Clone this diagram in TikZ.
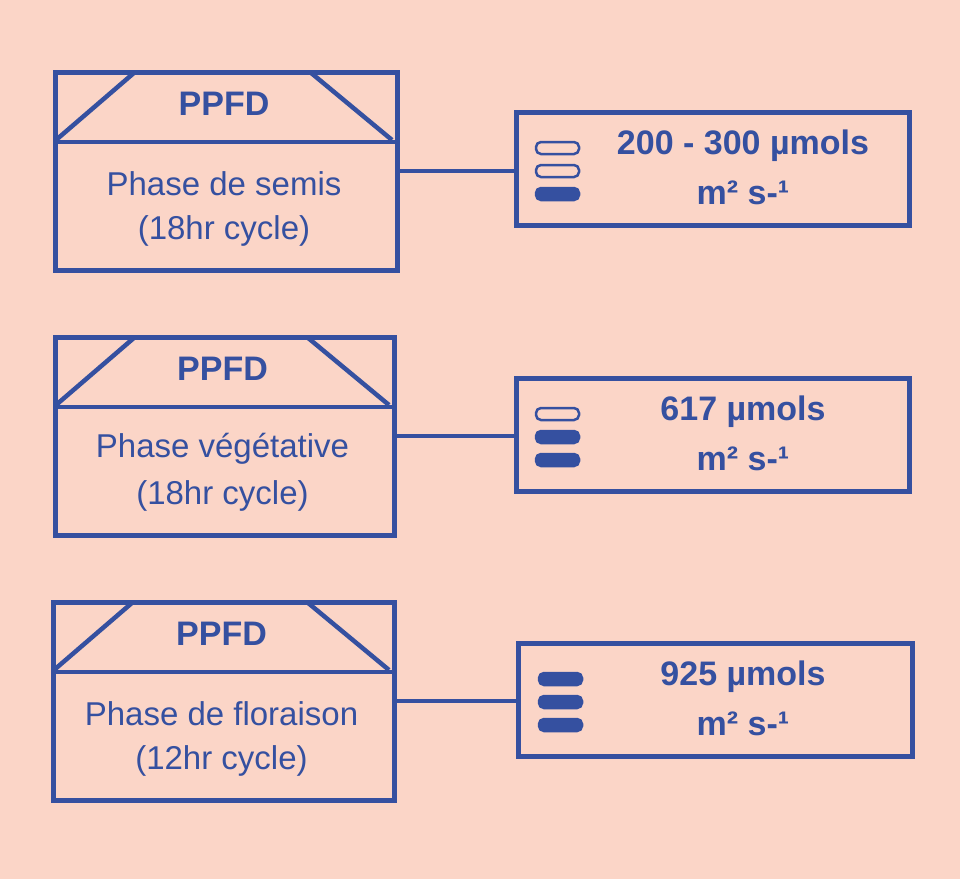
\documentclass[tikz,border=0pt]{standalone}
\usepackage{fontspec}
\setmainfont{Liberation Sans}
\definecolor{bg}{HTML}{FBD5C7}
\definecolor{bl}{HTML}{3550A0}
\begin{document}
\begin{tikzpicture}[x=1pt,y=-1pt,
  ln/.style={draw=bl,line width=4.5pt},
  pill/.style={draw=bl,line width=2.5pt,rounded corners=5pt},
  fpill/.style={pill,fill=bl},
  tb/.style={text=bl,font=\fontsize{34}{40}\selectfont\bfseries},
  tn/.style={text=bl,font=\fontsize{33}{40}\selectfont}]
\fill[bg] (0,0) rectangle (960,879);
\useasboundingbox (0,0) rectangle (960,879);
% left boxes
\foreach \i/\xa/\xb/\ya/\t/\c in {1/53/395/70/Phase de semis/18hr cycle,2/53/392/335/Phase végétative/18hr cycle,3/51/392/600/Phase de floraison/12hr cycle}{
  \node[ln,minimum width={\xb-\xa},minimum height=198,anchor=north west,inner sep=0] (L\i) at (\xa,\ya) {};
  \draw[ln] (\xa,\ya+72) -- (\xb,\ya+72);
  \draw[ln] (\xa+3,\ya+70) -- (\xa+82,\ya+2);
  \draw[ln] (\xb-3,\ya+70) -- (\xb-85,\ya+2);
  \node[tb] at ({(\xa+\xb)/2},\ya+34) {PPFD};
  \node[tn] at ({(\xa+\xb)/2},\ya+114) {\t};
  \node[tn] at ({(\xa+\xb)/2},\ya+161) {(\c)};
}
% right boxes
\foreach \i/\xa/\xb/\ya/\t in {1/514/907/110/200 - 300 µmols,2/514/907/376/617 µmols,3/516/910/641/925 µmols}{
  \node[ln,minimum width={\xb-\xa},minimum height=113,anchor=north west,inner sep=0] (R\i) at (\xa,\ya) {};
  \node[tb] at (743,\ya+36) {\t};
  \node[tb] at (743,\ya+83) {m² s-¹};
}
\draw[ln] (L1.east |- 0,171) -- (R1.west |- 0,171);
\draw[ln] (L2.east |- 0,436) -- (R2.west |- 0,436);
\draw[ln] (L3.east |- 0,701) -- (R3.west |- 0,701);
% icons
\draw[pill] (536,142) rectangle (579,154);
\draw[pill] (536,165) rectangle (579,177);
\draw[fpill] (536,188) rectangle (579,200);
\draw[pill] (536,408) rectangle (579,420);
\draw[fpill] (536,431) rectangle (579,443);
\draw[fpill] (536,454) rectangle (579,466);
\draw[fpill] (539,673) rectangle (582,685);
\draw[fpill] (539,696) rectangle (582,708);
\draw[fpill] (539,719) rectangle (582,731);
\end{tikzpicture}
\end{document}
